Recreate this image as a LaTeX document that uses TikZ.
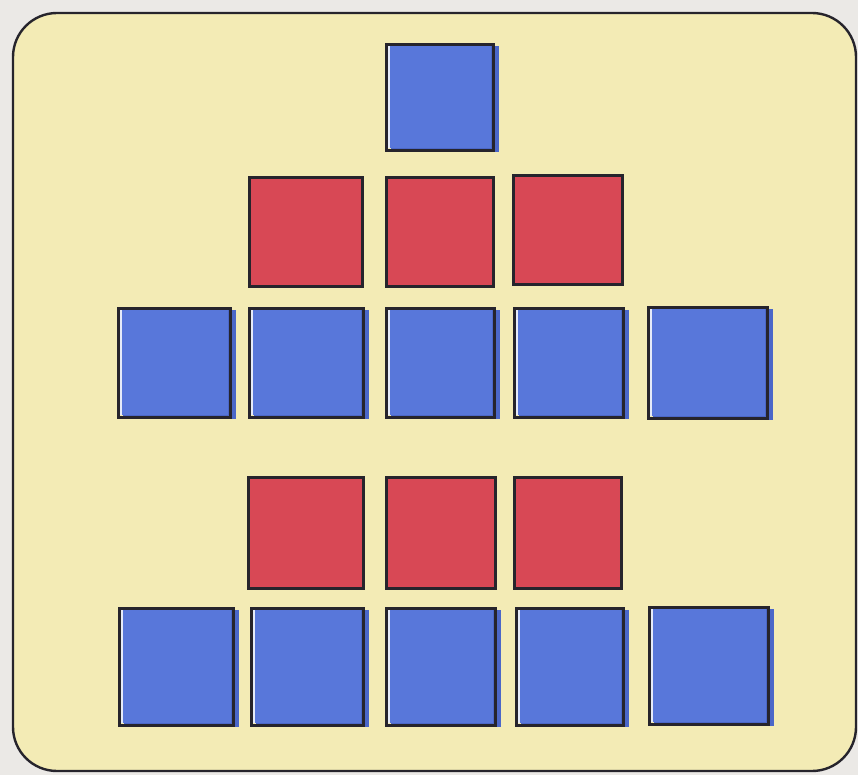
\documentclass[tikz,border=0pt]{standalone}
\usepackage{tikz}
\definecolor{bgout}{HTML}{EBE9E6}
\definecolor{paper}{HTML}{F3EBB5}
\definecolor{tileblue}{HTML}{5877DA}
\definecolor{shadeblue}{HTML}{4B67C8}
\definecolor{tilered}{HTML}{D84855}
\definecolor{ink}{HTML}{26242C}
\tikzset{
  outline/.style={draw=ink,line width=2.6pt,line join=miter},
  frame/.style={draw=ink,line width=2.4pt,fill=paper,rounded corners=44pt}
}
% \bluetile{name}{x1}{y1}{x2}{y2}
\newcommand\bluetile[5]{%
  \fill[shadeblue] (#2+6,#3+3) rectangle (#4+7,#5+3);
  \fill[tileblue] (#2+5,#3+2) rectangle (#4-1,#5-1);
  \fill[white!85!tileblue] (#2+1,#3+1) rectangle (#2+5,#5-1);
  \node[outline,inner sep=0pt,minimum width=#4-#2,minimum height=#5-#3,anchor=north west] (#1) at (#2,#3) {};
}
\newcommand\redtile[5]{%
  \fill[tilered] (#2+1,#3+1) rectangle (#4+3,#5+3);
  \node[outline,inner sep=0pt,minimum width=#4-#2,minimum height=#5-#3,anchor=north west] (#1) at (#2,#3) {};
}
\begin{document}
\begin{tikzpicture}[x=1pt,y=-1pt]
\fill[bgout] (0,0) rectangle (858,775);
\useasboundingbox (0,0) rectangle (858,775);
\draw[frame] (13,13) rectangle (856,771);
% row 1
\bluetile{a1}{385}{43}{492}{149}
% row 2
\redtile{b1}{248}{176}{361}{285}
\redtile{b2}{385}{176}{492}{285}
\redtile{b3}{512}{174}{621}{283}
% row 3
\bluetile{c1}{117}{307}{229}{416}
\bluetile{c2}{248}{307}{362}{416}
\bluetile{c3}{385}{307}{493}{416}
\bluetile{c4}{513}{307}{622}{416}
\bluetile{c5}{647}{306}{766}{417}
% row 4
\redtile{d1}{247}{476}{362}{587}
\redtile{d2}{385}{476}{494}{587}
\redtile{d3}{513}{476}{620}{587}
% row 5
\bluetile{e1}{118}{607}{232}{724}
\bluetile{e2}{250}{607}{362}{724}
\bluetile{e3}{385}{607}{494}{724}
\bluetile{e4}{515}{607}{622}{724}
\bluetile{e5}{648}{606}{767}{723}
\end{tikzpicture}
\end{document}
